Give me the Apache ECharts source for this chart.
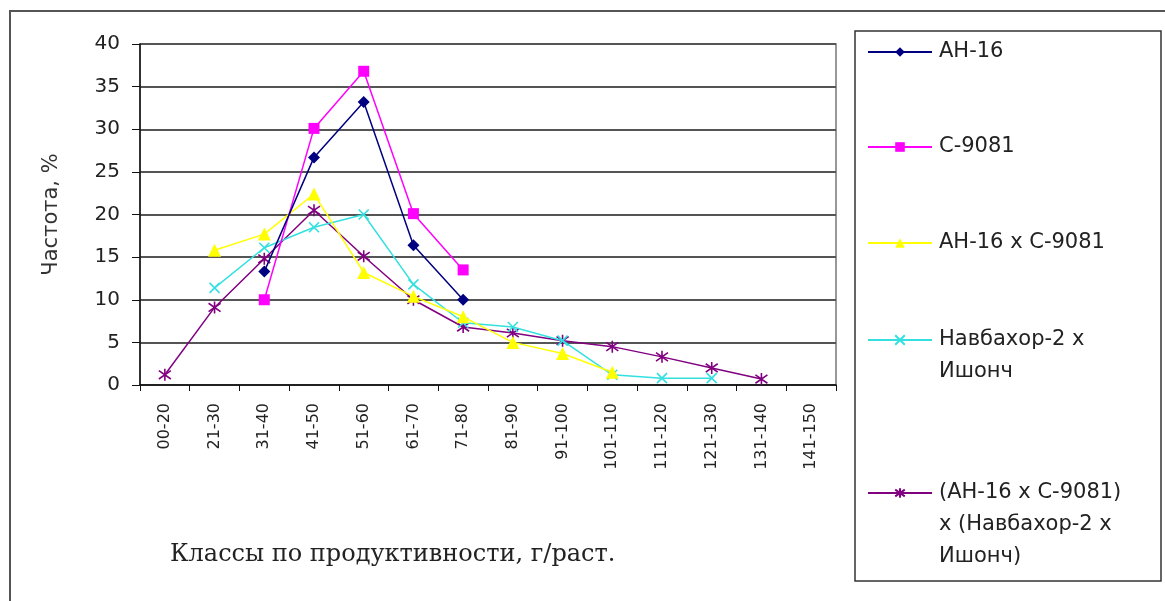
<!DOCTYPE html>
<html>
<head>
<meta charset="utf-8">
<script src="https://cdn.jsdelivr.net/npm/echarts@6/dist/echarts.min.js"></script>
<style>html,body{margin:0;padding:0;background:#fff}#c{width:1165px;height:601px}</style>
</head>
<body>
<div id="c"></div>
<script>
var categories = ['00-20','21-30','31-40','41-50','51-60','61-70','71-80','81-90','91-100','101-110','111-120','121-130','131-140','141-150'];
var yTicks = [0,5,10,15,20,25,30,35,40];
var seriesNames = ['АН-16','С-9081','АН-16 x С-9081','Навбахор-2 x Ишонч','(АН-16 x С-9081) x (Навбахор-2 x Ишонч)'];
var legendLabels = ['АН-16','С-9081','АН-16 x С-9081','Навбахор-2 x\nИшонч','(АН-16 x С-9081)\nx (Навбахор-2 x\nИшонч)'];
var an16   = [null,null,13.3,26.7,33.2,16.4,10.0,null,null,null,null,null,null,null];
var c9081  = [null,null,10.0,30.1,36.8,20.1,13.5,null,null,null,null,null,null,null];
var hyb1   = [null,15.8,17.7,22.4,13.2,10.4,8.0,5.0,3.7,1.5,null,null,null,null];
var navb   = [null,11.4,16.1,18.5,20.0,11.8,7.3,6.8,5.2,1.2,0.8,0.8,null,null];
var hyb2   = [1.2,9.1,14.8,20.5,15.1,10.0,6.8,6.1,5.2,4.5,3.3,2.0,0.7,null];

var colors = ['#000080','#FF00FF','#FFFF00','#33E0E0','#800080'];
var symbols = ['diamond','rect','triangle','path://M0,0 L10,10 M10,0 L0,10','path://M5,0 L5,10 M0,1.5 L10,8.5 M10,1.5 L0,8.5'];
var sizes = [12,11,13,10,12];
var datas = [an16,c9081,hyb1,navb,hyb2];
var legendFirstLineY = [52,147,243,340,493];
var SANS = 'DejaVu Sans, Liberation Sans, Arial';

var series = datas.map(function(d,i){
  var stroke = i>=3;
  return {
    name: seriesNames[i], type:'line', data:d, connectNulls:false,
    symbol: symbols[i], symbolSize: sizes[i],
    lineStyle:{color:colors[i], width:1.5},
    itemStyle:{color: colors[i], borderColor: colors[i], borderWidth: stroke?1.6:0},
    emphasis:{disabled:true}, animation:false, z: 10-i
  };
});

var legends = seriesNames.map(function(n,i){
  var lbl = legendLabels[i];
  var lines = lbl.split('\n').length;
  var lh = 32;
  var pre = '';
  for (var k=1;k<lines;k++) pre += '\u00a0\n';
  return {
    data:[n], orient:'vertical', left:867, top: legendFirstLineY[i] - lh*(2*lines-1)/2,
    padding:0, itemWidth:64, itemHeight:12, itemGap:0, selectedMode:false,
    formatter: function(){ return pre + lbl; },
    textStyle:{fontFamily:SANS, fontSize:21, color:'#222', lineHeight:lh, padding:[0,0,0,2]}
  };
});

var chart = echarts.init(document.getElementById('c'), null, {renderer:'canvas'});
chart.setOption({
  backgroundColor:'#fff',
  animation:false,
  title:{text:'Классы по продуктивности, г/раст.', left:165, top:538,
    textStyle:{fontFamily:'DejaVu Serif, Liberation Serif, Times New Roman', fontSize:24, fontWeight:'normal', color:'#222'}},
  legend: legends,
  graphic:[
    {type:'rect', shape:{x:10,y:11,width:1170,height:600}, style:{fill:'none', stroke:'#555', lineWidth:2}, silent:true, z:-10},
    {type:'rect', shape:{x:855,y:31,width:306,height:550}, style:{fill:'none', stroke:'#333', lineWidth:1.5}, silent:true, z:-10}
  ],
  grid:{left:140, right:329, top:44, bottom:216, show:true, borderColor:'#777', borderWidth:1.5},
  xAxis:{type:'category', data:categories, boundaryGap:true,
    axisLine:{lineStyle:{color:'#111', width:1.5}},
    axisTick:{show:true, interval:0, length:6, lineStyle:{color:'#111'}},
    axisLabel:{rotate:90, interval:0, margin:18, fontFamily:SANS, fontSize:16, color:'#222'}
  },
  yAxis:{type:'value', min:0, max:40, interval:5,
    name:'Частота, %', nameLocation:'middle', nameGap:78, nameRotate:90,
    nameTextStyle:{fontFamily:SANS, fontSize:21, color:'#333'},
    axisLine:{show:true, lineStyle:{color:'#111', width:1.5}},
    axisTick:{show:true, length:8, lineStyle:{color:'#111'}},
    axisLabel:{margin:20, fontFamily:SANS, fontSize:20, color:'#222',
      formatter:function(v){ return yTicks.indexOf(v)>=0 ? String(v) : ''; }},
    splitLine:{lineStyle:{color:'#555', width:2}}
  },
  series: series
});
</script>
</body>
</html>
